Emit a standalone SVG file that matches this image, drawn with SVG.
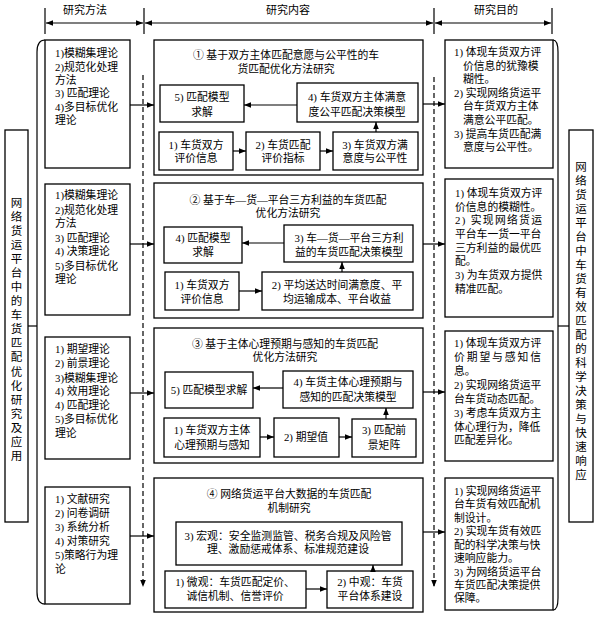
<svg xmlns="http://www.w3.org/2000/svg" width="598" height="619" viewBox="0 0 598 619">
<defs>
<style>
.bx{fill:#fff;stroke:#000;stroke-width:1.3}
.ln{stroke:#000;stroke-width:1.2;fill:none}
.ar{stroke:#000;stroke-width:1.2;fill:none;marker-end:url(#ah)}
.dd{stroke:#000;stroke-width:1.2;fill:none;stroke-dasharray:5 3;marker-end:url(#ah)}
.t{font-family:"Liberation Serif","Noto Sans CJK SC",serif;font-size:10.8px;fill:#000}
.c{text-anchor:middle}
.v{font-size:11.5px}
</style>
<marker id="ah" viewBox="0 0 10 10" refX="10" refY="5" markerWidth="7" markerHeight="7" orient="auto-start-reverse" markerUnits="userSpaceOnUse"><path d="M0,1 L10,5 L0,9 z" fill="#000"/></marker>
</defs>
<rect width="598" height="619" fill="#fff"/>

<g id="header">
<text class="t c" x="85" y="14" style="font-size:11px">研究方法</text>
<text class="t c" x="288" y="14" style="font-size:11px">研究内容</text>
<text class="t c" x="496" y="14" style="font-size:11px">研究目的</text>
<line class="ln" x1="45" y1="8" x2="45" y2="34"/>
<line class="ln" x1="144" y1="8" x2="144" y2="34"/>
<line class="ln" x1="434" y1="8" x2="434" y2="34"/>
<line class="ln" x1="552" y1="8" x2="552" y2="34"/>
<line class="ln" x1="46" y1="23" x2="143" y2="23" marker-start="url(#ah)" marker-end="url(#ah)"/>
<line class="ln" x1="145" y1="23" x2="433" y2="23" marker-start="url(#ah)" marker-end="url(#ah)"/>
<line class="ln" x1="435" y1="23" x2="551" y2="23" marker-start="url(#ah)" marker-end="url(#ah)"/>
</g>

<g id="left-title">
<rect class="bx" x="5" y="130" width="23" height="392"/>
<text class="t c v" x="16.5"><tspan x="16.5" y="207">网</tspan><tspan x="16.5" y="221">络</tspan><tspan x="16.5" y="235">货</tspan><tspan x="16.5" y="249">运</tspan><tspan x="16.5" y="263">平</tspan><tspan x="16.5" y="277">台</tspan><tspan x="16.5" y="291">中</tspan><tspan x="16.5" y="305">的</tspan><tspan x="16.5" y="319">车</tspan><tspan x="16.5" y="333">货</tspan><tspan x="16.5" y="347">匹</tspan><tspan x="16.5" y="361">配</tspan><tspan x="16.5" y="376">优</tspan><tspan x="16.5" y="390">化</tspan><tspan x="16.5" y="404">研</tspan><tspan x="16.5" y="418">究</tspan><tspan x="16.5" y="432">及</tspan><tspan x="16.5" y="446">应</tspan><tspan x="16.5" y="460">用</tspan></text>
</g>

<g id="right-title">
<rect class="bx" x="569" y="130" width="24" height="392"/>
<text class="t c v" x="581"><tspan x="581" y="171">网</tspan><tspan x="581" y="185">络</tspan><tspan x="581" y="199">货</tspan><tspan x="581" y="213">运</tspan><tspan x="581" y="227">平</tspan><tspan x="581" y="241">台</tspan><tspan x="581" y="255">中</tspan><tspan x="581" y="269">车</tspan><tspan x="581" y="283">货</tspan><tspan x="581" y="297">有</tspan><tspan x="581" y="311">效</tspan><tspan x="581" y="325">匹</tspan><tspan x="581" y="339">配</tspan><tspan x="581" y="353">的</tspan><tspan x="581" y="367">科</tspan><tspan x="581" y="381">学</tspan><tspan x="581" y="395">决</tspan><tspan x="581" y="409">策</tspan><tspan x="581" y="423">与</tspan><tspan x="581" y="437">快</tspan><tspan x="581" y="451">速</tspan><tspan x="581" y="465">响</tspan><tspan x="581" y="479">应</tspan></text>
</g>

<g id="method1">
<rect class="bx" x="45" y="40" width="85" height="128"/>
<text class="t"><tspan x="55" y="57">1)模糊集理论</tspan><tspan x="55" y="71">2)规范化处理</tspan><tspan x="55" y="84">方法</tspan><tspan x="55" y="97">3) 匹配理论</tspan><tspan x="55" y="111">4)多目标优化</tspan><tspan x="55" y="124">理论</tspan></text>
</g>
<g id="method2">
<rect class="bx" x="45" y="184" width="85" height="131"/>
<text class="t"><tspan x="55" y="199">1)模糊集理论</tspan><tspan x="55" y="214">2)规范化处理</tspan><tspan x="55" y="227">方法</tspan><tspan x="55" y="242">3) 匹配理论</tspan><tspan x="55" y="255">4) 决策理论</tspan><tspan x="55" y="270">5)多目标优化</tspan><tspan x="55" y="283">理论</tspan></text>
</g>
<g id="method3">
<rect class="bx" x="45" y="337" width="85" height="122"/>
<text class="t"><tspan x="55" y="353">1) 期望理论</tspan><tspan x="55" y="367">2) 前景理论</tspan><tspan x="55" y="382">3)模糊集理论</tspan><tspan x="55" y="395">4) 效用理论</tspan><tspan x="55" y="409">4) 匹配理论</tspan><tspan x="55" y="423">5)多目标优化</tspan><tspan x="55" y="437">理论</tspan></text>
</g>
<g id="method4">
<rect class="bx" x="45" y="487" width="85" height="117"/>
<text class="t"><tspan x="55" y="503">1) 文献研究</tspan><tspan x="55" y="517">2) 问卷调研</tspan><tspan x="55" y="531">3) 系统分析</tspan><tspan x="55" y="545">4) 对策研究</tspan><tspan x="55" y="559">5)策略行为理</tspan><tspan x="55" y="573">论</tspan></text>
</g>

<g id="content1">
<rect class="bx" x="154" y="40" width="269" height="135"/>
<text class="t c"><tspan x="286" y="59">① 基于双方主体匹配意愿与公平性的车</tspan><tspan x="286" y="73">货匹配优化方法研究</tspan></text>
<rect class="bx" x="160" y="85" width="84" height="37"/>
<text class="t c"><tspan x="202" y="101">5) 匹配模型</tspan><tspan x="202" y="116">求解</tspan></text>
<rect class="bx" x="297" y="83" width="121" height="39"/>
<text class="t c"><tspan x="357" y="101">4) 车货双方主体满意</tspan><tspan x="357" y="116">度公平匹配决策模型</tspan></text>
<rect class="bx" x="159" y="132" width="74" height="38"/>
<text class="t c"><tspan x="196" y="149">1) 车货双方</tspan><tspan x="196" y="162">评价信息</tspan></text>
<rect class="bx" x="246" y="132" width="74" height="38"/>
<text class="t c"><tspan x="283" y="149">2) 车货匹配</tspan><tspan x="283" y="162">评价指标</tspan></text>
<rect class="bx" x="333" y="132" width="85" height="38"/>
<text class="t c"><tspan x="375" y="149">3) 车货双方满</tspan><tspan x="375" y="162">意度与公平性</tspan></text>
</g>

<g id="content2">
<rect class="bx" x="154" y="183" width="269" height="135"/>
<text class="t c"><tspan x="288" y="204">② 基于车—货—平台三方利益的车货匹配</tspan><tspan x="288" y="217">优化方法研究</tspan></text>
<rect class="bx" x="164" y="227" width="78" height="36"/>
<text class="t c"><tspan x="203" y="242">4) 匹配模型</tspan><tspan x="203" y="256">求解</tspan></text>
<rect class="bx" x="284" y="225" width="129" height="37"/>
<text class="t c"><tspan x="349" y="242">3) 车—货—平台三方利</tspan><tspan x="349" y="256">益的车货匹配决策模型</tspan></text>
<rect class="bx" x="165" y="272" width="74" height="38"/>
<text class="t c"><tspan x="202" y="289">1) 车货双方</tspan><tspan x="202" y="303">评价信息</tspan></text>
<rect class="bx" x="262" y="272" width="151" height="38"/>
<text class="t c"><tspan x="337" y="289">2) 平均送达时间满意度、平</tspan><tspan x="337" y="303">均运输成本、平台收益</tspan></text>
</g>

<g id="content3">
<rect class="bx" x="154" y="328" width="269" height="135"/>
<text class="t c"><tspan x="285" y="348">③ 基于主体心理预期与感知的车货匹配</tspan><tspan x="285" y="361">优化方法研究</tspan></text>
<rect class="bx" x="165" y="372" width="88" height="36"/>
<text class="t c" x="209" y="394">5) 匹配模型求解</text>
<rect class="bx" x="283" y="371" width="130" height="37"/>
<text class="t c"><tspan x="348" y="386">4) 车货主体心理预期与</tspan><tspan x="348" y="401">感知的匹配决策模型</tspan></text>
<rect class="bx" x="164" y="418" width="96" height="39"/>
<text class="t c"><tspan x="212" y="434">1) 车货双方主体</tspan><tspan x="212" y="449">心理预期与感知</tspan></text>
<rect class="bx" x="274" y="418" width="65" height="39"/>
<text class="t c" x="306" y="441">2) 期望值</text>
<rect class="bx" x="352" y="419" width="64" height="38"/>
<text class="t c"><tspan x="384" y="434">3) 匹配前</tspan><tspan x="384" y="449">景矩阵</tspan></text>
</g>

<g id="content4">
<rect class="bx" x="154" y="478" width="269" height="134"/>
<text class="t c"><tspan x="289" y="498">④ 网络货运平台大数据的车货匹配</tspan><tspan x="289" y="512">机制研究</tspan></text>
<rect class="bx" x="176" y="522" width="226" height="43"/>
<text class="t c"><tspan x="288" y="540" textLength="207" lengthAdjust="spacingAndGlyphs">3) 宏观：安全监测监管、税务合规及风险管</tspan><tspan x="288" y="553">理、激励惩戒体系、标准规范建设</tspan></text>
<rect class="bx" x="165" y="571" width="141" height="37"/>
<text class="t c"><tspan x="235" y="586">1) 微观：车货匹配定价、</tspan><tspan x="235" y="600">诚信机制、信誉评价</tspan></text>
<rect class="bx" x="327" y="571" width="86" height="37"/>
<text class="t c"><tspan x="370" y="586">2) 中观：车货</tspan><tspan x="370" y="600">平台体系建设</tspan></text>
</g>

<g id="purpose1">
<rect class="bx" x="445" y="40" width="108" height="128"/>
<text class="t"><tspan x="454" y="56">1) 体现车货双方评</tspan><tspan x="463" y="70">价信息的犹豫模</tspan><tspan x="463" y="83">糊性。</tspan><tspan x="454" y="97">2) 实现网络货运平</tspan><tspan x="463" y="110">台车货双方主体</tspan><tspan x="463" y="124">满意公平匹配。</tspan><tspan x="454" y="138">3) 提高车货匹配满</tspan><tspan x="463" y="151">意度与公平性。</tspan></text>
</g>
<g id="purpose2">
<rect class="bx" x="445" y="179" width="108" height="138"/>
<text class="t"><tspan x="455" y="197">1) 体现车货双方评</tspan><tspan x="455" y="211">价信息的模糊性。</tspan><tspan x="455" y="224" textLength="87" lengthAdjust="spacing">2) 实现网络货运</tspan><tspan x="455" y="238">平台车一货一平台</tspan><tspan x="455" y="252">三方利益的最优匹</tspan><tspan x="455" y="265">配。</tspan><tspan x="455" y="279">3) 为车货双方提供</tspan><tspan x="455" y="293">精准匹配。</tspan></text>
</g>
<g id="purpose3">
<rect class="bx" x="445" y="331" width="108" height="130"/>
<text class="t"><tspan x="454" y="347">1) 体现车货双方评</tspan><tspan x="454" y="361" textLength="87" lengthAdjust="spacing">价期望与感知信</tspan><tspan x="454" y="375">息。</tspan><tspan x="454" y="389">2) 实现网络货运平</tspan><tspan x="454" y="403">台车货动态匹配。</tspan><tspan x="454" y="417">3) 考虑车货双方主</tspan><tspan x="454" y="431">体心理行为，降低</tspan><tspan x="454" y="444">匹配差异化。</tspan></text>
</g>
<g id="purpose4">
<rect class="bx" x="445" y="478" width="108" height="132"/>
<text class="t"><tspan x="454" y="495">1) 实现网络货运平</tspan><tspan x="454" y="508">台车货有效匹配机</tspan><tspan x="454" y="522">制设计。</tspan><tspan x="454" y="535">2) 实现车货有效匹</tspan><tspan x="454" y="549">配的科学决策与快</tspan><tspan x="454" y="562">速响应能力。</tspan><tspan x="454" y="576">3) 为网络货运平台</tspan><tspan x="454" y="589">车货匹配决策提供</tspan><tspan x="454" y="602">保障。</tspan></text>
</g>

<g id="connectors">
<path class="ln" d="M45,40 Q37,40 37,52 L37,592 Q37,604 45,604"/>
<path class="ln" d="M553,40 Q558,40 558,52 L558,598 Q558,610 553,610"/>
<line class="ln" x1="28" y1="326" x2="37" y2="326"/>
<line class="ln" x1="558" y1="326" x2="569" y2="326"/>
<line class="dd" x1="143" y1="75" x2="143" y2="587"/>
<line class="dd" x1="434" y1="77" x2="434" y2="587"/>
<line class="ar" x1="130" y1="105" x2="154" y2="105"/>
<line class="ar" x1="130" y1="244" x2="154" y2="244"/>
<line class="ar" x1="130" y1="393" x2="154" y2="393"/>
<line class="ar" x1="130" y1="536" x2="154" y2="536"/>
<line class="ar" x1="423" y1="104" x2="445" y2="104"/>
<line class="ar" x1="423" y1="244" x2="445" y2="244"/>
<line class="ar" x1="423" y1="392" x2="445" y2="392"/>
<line class="ar" x1="423" y1="532" x2="445" y2="532"/>
<line class="ar" x1="297" y1="105" x2="244" y2="105"/>
<line class="ar" x1="233" y1="151" x2="246" y2="151"/>
<line class="ar" x1="320" y1="151" x2="333" y2="151"/>
<line class="ar" x1="376" y1="132" x2="376" y2="122"/>
<line class="ar" x1="284" y1="243" x2="242" y2="243"/>
<line class="ar" x1="239" y1="291" x2="262" y2="291"/>
<line class="ar" x1="342" y1="272" x2="342" y2="262"/>
<line class="ar" x1="283" y1="388" x2="253" y2="388"/>
<line class="ar" x1="260" y1="437" x2="274" y2="437"/>
<line class="ar" x1="339" y1="437" x2="352" y2="437"/>
<line class="ar" x1="386" y1="419" x2="386" y2="408"/>
<line class="ar" x1="306" y1="589" x2="327" y2="589"/>
<line class="ar" x1="373" y1="571" x2="373" y2="565"/>
</g>
</svg>
